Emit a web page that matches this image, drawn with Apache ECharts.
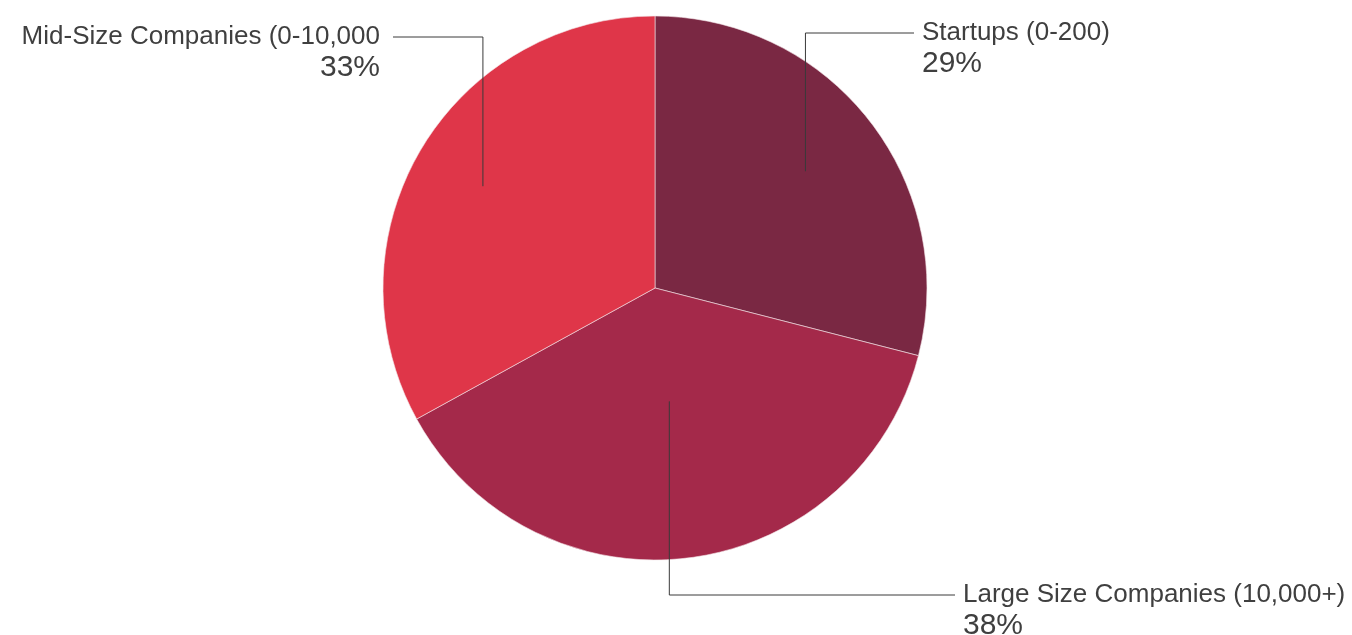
<!DOCTYPE html>
<html>
<head>
<meta charset="utf-8">
<script src="https://cdn.jsdelivr.net/npm/echarts@6/dist/echarts.min.js"></script>
<style>
  html, body { margin: 0; padding: 0; background: #fff; }
</style>
</head>
<body>
<div id="company-size-pie" style="width: 1352px; height: 635px"></div>
<script>
// data
const categories = ["Startups (0-200)", "Large Size Companies (10,000+)", "Mid-Size Companies (0-10,000"];
const shares = [29, 38, 33];
const sliceColors = ["#7a2843", "#a4294a", "#df3649"];

// where each callout goes (layout only)
const pieCenter = [655, 288];
const pieRadius = 272;
const anchorDepth = [0.7, 0.42, 0.735]; // how far into the slice the leader starts
const calloutY = [33, 595, 37];
const calloutX = [922, 963, 380];
const calloutSide = ["left", "left", "right"];

const pieData = categories.map((name, i) => ({ name: name, value: shares[i] }));

const chart = echarts.init(document.getElementById("company-size-pie"));

chart.setOption({
  animation: false,
  color: sliceColors,
  series: [
    // the slices themselves
    {
      type: "pie",
      center: pieCenter,
      radius: pieRadius,
      startAngle: 90,
      clockwise: true,
      silent: true,
      itemStyle: {
        borderColor: "#f4e4e8",
        borderWidth: 0.6,
      },
      label: { show: false },
      labelLine: { show: false },
      data: pieData,
    },
    // same pie, transparent, on top: only carries the callouts so the
    // leader lines are drawn over the slices
    {
      type: "pie",
      z: 5,
      center: pieCenter,
      radius: pieRadius,
      startAngle: 90,
      clockwise: true,
      silent: true,
      percentPrecision: 0,
      itemStyle: { color: "rgba(0,0,0,0)", borderWidth: 0 },
      label: {
        show: true,
        position: "outside",
        formatter: "{name|{b}}\n{pct|{d}%}",
        color: "#3f3f3f",
        fontFamily: "Liberation Sans",
        rich: {
          name: { fontSize: 26, lineHeight: 30, color: "#3f3f3f", fontFamily: "Liberation Sans" },
          pct: { fontSize: 30, lineHeight: 32, color: "#3f3f3f", fontFamily: "Liberation Sans" },
        },
      },
      labelLine: {
        show: true,
        lineStyle: { color: "#3a3a3a", width: 1 },
      },
      labelLayout: function (params) {
        const i = params.dataIndex;
        const edge = params.labelLinePoints[0];
        const k = anchorDepth[i];
        const ax = pieCenter[0] + (edge[0] - pieCenter[0]) * k;
        const ay = pieCenter[1] + (edge[1] - pieCenter[1]) * k;
        const ly = calloutY[i];
        const left = calloutSide[i] === "left";
        const endX = left ? calloutX[i] - 8 : calloutX[i] + 13;
        return {
          x: calloutX[i],
          y: ly - 15,
          align: calloutSide[i],
          verticalAlign: "top",
          labelLinePoints: [
            [ax, ay],
            [ax, ly],
            [endX, ly],
          ],
        };
      },
      data: pieData,
    },
  ],
});
</script>
</body>
</html>
